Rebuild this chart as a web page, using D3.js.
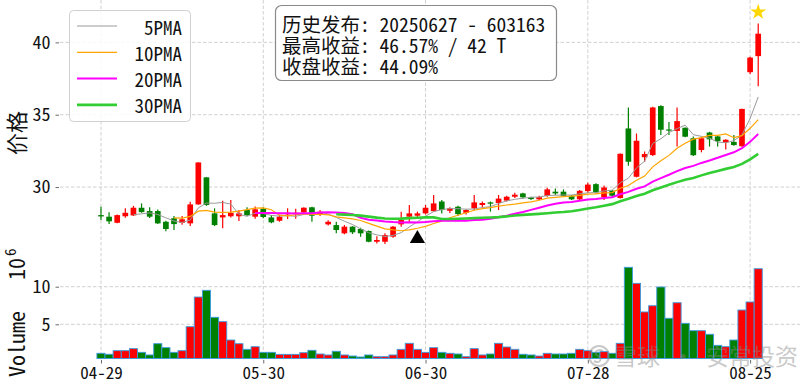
<!DOCTYPE html>
<html>
<head>
<meta charset="utf-8">
<script src="https://cdn.jsdelivr.net/npm/d3@7"></script>
<style>
  body { margin: 0; background: #fff; }
  svg text { font-family: "Noto Sans Mono CJK SC", "Noto Sans CJK SC", "DejaVu Sans Mono", monospace; fill: #111; }
</style>
</head>
<body>
<div id="chart"></div>
<script>
// trading days 2025-04-29 .. 2025-08-26
const dates = ['04-29','04-30','05-06','05-07','05-08','05-09','05-12','05-13','05-14','05-15',
  '05-16','05-19','05-20','05-21','05-22','05-23','05-26','05-27','05-28','05-29',
  '05-30','06-03','06-04','06-05','06-06','06-09','06-10','06-11','06-12','06-13',
  '06-16','06-17','06-18','06-19','06-20','06-23','06-24','06-25','06-26','06-27',
  '06-30','07-01','07-02','07-03','07-04','07-07','07-08','07-09','07-10','07-11',
  '07-14','07-15','07-16','07-17','07-18','07-21','07-22','07-23','07-24','07-25',
  '07-28','07-29','07-30','07-31','08-01','08-04','08-05','08-06','08-07','08-08',
  '08-11','08-12','08-13','08-14','08-15','08-18','08-19','08-20','08-21','08-22',
  '08-25','08-26'];

const opens = [28.06,27.95,27.53,27.98,28.04,28.57,28.34,28.34,27.6,27.84,
  27.53,27.49,28.8,30.67,28.18,27.9,27.98,27.98,28.41,27.95,
  28.5,27.9,27.67,28.11,28.13,28.25,28.6,28.11,27.42,27.37,
  26.8,27.26,27.1,26.96,26.22,26.22,26.57,27.42,27.95,28.02,
  28.18,28.33,29.0,28.36,28.64,28.22,28.53,28.76,28.94,28.9,
  29.06,29.33,29.56,29.29,29.15,29.38,29.68,29.68,29.4,29.15,
  29.72,30.2,29.3,29.75,29.24,34.05,30.71,32.06,32.21,35.6,
  33.98,33.88,34.1,33.37,32.56,33.77,33.5,33.09,33.12,32.82,
  37.94,39.05];
const highs = [28.64,28.25,28.1,28.53,28.7,28.87,28.6,28.45,27.67,28.0,
  28.0,28.98,31.72,30.7,28.53,29.05,29.1,28.41,28.6,28.65,
  28.6,28.06,28.06,28.53,28.5,28.6,28.64,28.41,27.7,27.6,
  27.37,27.3,27.18,27.0,26.6,26.8,27.3,28.3,28.76,28.3,
  28.76,29.45,29.1,28.6,28.7,28.45,29.45,29.0,29.0,29.45,
  29.4,29.6,29.6,29.33,29.4,29.95,29.9,29.84,29.45,29.8,
  30.3,30.26,30.1,29.8,32.32,35.5,33.7,32.45,35.55,35.65,
  34.5,35.5,34.12,33.5,33.45,33.82,33.55,33.3,33.6,35.42,
  39.0,41.3];
const lows = [27.72,27.44,27.5,27.88,28.0,28.22,27.86,27.45,26.94,27.03,
  27.4,27.3,28.78,28.7,27.3,27.15,27.9,27.65,28.0,27.8,
  27.85,27.49,27.6,27.79,27.8,28.2,27.6,27.99,27.35,26.8,
  26.74,26.75,26.57,26.18,26.1,26.06,26.5,27.26,27.6,27.9,
  28.1,28.29,28.18,28.2,28.0,28.1,28.41,28.6,28.3,28.41,
  29.0,29.25,29.2,29.1,29.1,29.33,29.45,29.33,29.1,29.1,
  29.6,29.55,29.1,29.3,29.2,31.47,30.67,31.75,32.15,33.6,
  33.6,32.8,33.45,32.15,32.4,32.8,32.8,32.6,32.85,32.78,
  37.82,36.97];
const closes = [27.97,27.63,28.06,28.22,28.57,28.27,27.95,27.49,27.1,27.44,
  27.77,28.8,31.7,28.76,27.37,28.06,28.22,28.18,28.06,28.46,
  27.93,27.56,27.95,28.22,28.22,28.57,28.02,28.29,27.6,27.03,
  27.26,26.87,26.8,26.22,26.34,26.68,27.26,27.72,28.18,28.18,
  28.57,28.87,28.41,28.53,28.13,28.41,28.94,28.9,28.85,29.2,
  29.33,29.47,29.29,29.17,29.3,29.84,29.56,29.38,29.15,29.74,
  30.17,29.63,29.97,29.4,32.3,31.75,33.2,32.28,35.5,33.96,
  33.9,34.56,33.48,32.2,33.37,33.3,33.17,33.27,32.9,35.4,
  38.95,40.6];
// volume in 10^6
const volumes = [1.14,1.01,1.49,1.49,1.76,1.27,0.92,2.42,1.89,1.27,
  1.49,4.68,8.63,9.52,5.93,5.35,2.91,2.42,1.67,2.02,
  1.27,1.27,1.0,1.0,1.0,1.22,1.54,1.05,0.92,1.41,
  0.92,0.78,0.65,0.92,0.69,0.69,0.92,1.67,2.47,1.67,
  1.27,1.89,1.27,1.14,1.05,0.69,1.76,0.92,1.05,2.47,
  1.98,1.67,1.01,0.92,0.78,1.14,1.05,1.05,1.14,1.67,
  1.49,1.27,1.36,1.14,2.47,12.58,10.45,6.64,7.47,9.96,
  5.8,7.87,5.13,4.15,4.15,3.67,2.2,2.02,2.91,6.9,
  7.97,12.39];

const maWindows = [5, 10, 20, 30];
const maLabels = ['5PMA', '10PMA', '20PMA', '30PMA'];
const maColors = ['#9a9a9a', '#ffa500', '#ff00ff', '#32cd32'];
const maWidths = [1, 1.2, 2, 2.6];

const priceTicks = [30, 35, 40];
const volTicks = [5, 10];
const xTickIdx = [0, 20, 40, 60, 80];

const buyMarks = [{ i: 39, price: 26.5 }];
const starMarks = [{ i: 81, price: 42.1 }];

const infoLines = ['历史发布: 20250627 - 603163', '最高收益: 46.57% / 42 T', '收盘收益: 44.09%'];

const W = 800, H = 385;
const svg = d3.select('#chart').append('svg').attr('width', W).attr('height', H);

const x = d3.scaleLinear().domain([-5.05, 86.15]).range([60, 800]);
const yP = d3.scaleLinear().domain([25.51, 42.93]).range([252, 0]);
const yV = d3.scaleLinear().domain([0.45, 13.82]).range([358.5, 258]);
const step = x(1) - x(0);

const idx = d3.range(dates.length);
const up = i => closes[i] >= opens[i];
const RED = '#ff0000', GREEN = '#008000';

// grid
const grid = svg.append('g').attr('stroke', '#c4c4c4').attr('stroke-width', 0.8).attr('stroke-dasharray', '3.5,2');
grid.selectAll('.vg').data(xTickIdx).join('line')
  .attr('x1', d => x(d)).attr('x2', d => x(d)).attr('y1', 0).attr('y2', 359.5);
grid.selectAll('.hp').data(priceTicks).join('line').attr('class', 'hp')
  .attr('x1', 60).attr('x2', 800).attr('y1', d => yP(d)).attr('y2', d => yP(d));
grid.selectAll('.hv').data(volTicks).join('line').attr('class', 'hv')
  .attr('x1', 60).attr('x2', 800).attr('y1', d => yV(d)).attr('y2', d => yV(d));

// axes
const axP = svg.append('g').attr('transform', 'translate(59,0)')
  .call(d3.axisLeft(yP).tickValues(priceTicks).tickSize(3.5).tickPadding(5));
const axV = svg.append('g').attr('transform', 'translate(59,0)')
  .call(d3.axisLeft(yV).tickValues(volTicks).tickSize(3.5).tickPadding(5));
const axX = svg.append('g').attr('transform', 'translate(0,360)')
  .call(d3.axisBottom(x).tickValues(xTickIdx).tickFormat(i => dates[i]).tickSize(3.5).tickPadding(3));
[axP, axV, axX].forEach(a => {
  a.select('.domain').remove();
  a.selectAll('.tick line').attr('stroke', '#444').attr('stroke-width', 0.8);
  a.selectAll('.tick text').attr('font-size', 18).attr('fill', '#111');
});
axX.selectAll('.tick text').attr('font-size', 17);

// candles
const bodyW = step * 0.7;
const candles = svg.append('g');
candles.selectAll('.wick').data(idx).join('line')
  .attr('x1', i => x(i)).attr('x2', i => x(i))
  .attr('y1', i => yP(highs[i])).attr('y2', i => yP(lows[i]))
  .attr('stroke', i => up(i) ? RED : GREEN).attr('stroke-width', 1.2);
candles.selectAll('.body').data(idx).join('rect')
  .attr('x', i => x(i) - bodyW / 2).attr('width', bodyW)
  .attr('y', i => yP(Math.max(opens[i], closes[i])))
  .attr('height', i => Math.max(1, Math.abs(yP(opens[i]) - yP(closes[i]))))
  .attr('fill', i => up(i) ? RED : GREEN);

// moving averages
function rollingMean(arr, n) {
  return arr.map((d, i) => i < n - 1 ? null : d3.mean(arr.slice(i - n + 1, i + 1)));
}
const maLine = d3.line().defined(d => d[1] != null).x(d => x(d[0])).y(d => yP(d[1]));
maWindows.forEach((n, k) => {
  const m = rollingMean(closes, n);
  svg.append('path').datum(m.map((v, i) => [i, v]))
    .attr('d', maLine).attr('fill', 'none')
    .attr('stroke', maColors[k]).attr('stroke-width', maWidths[k]);
});

// volume
svg.append('g').selectAll('rect').data(idx).join('rect')
  .attr('x', i => x(i) - step / 2).attr('width', step)
  .attr('y', i => yV(volumes[i])).attr('height', i => yV.range()[0] - yV(volumes[i]))
  .attr('fill', i => up(i) ? RED : GREEN)
  .attr('stroke', '#3b9be0').attr('stroke-width', 0.9);

// markers
svg.append('g').selectAll('path').data(buyMarks).join('path')
  .attr('d', d3.symbol(d3.symbolTriangle, 100))
  .attr('transform', d => `translate(${x(d.i)},${yP(d.price) + 1})`)
  .attr('fill', '#000');
svg.append('g').selectAll('path').data(starMarks).join('path')
  .attr('d', d3.symbol(d3.symbolStar, 80))
  .attr('transform', d => `translate(${x(d.i)},${yP(d.price)})`)
  .attr('fill', '#ffd700');

// axis labels
svg.append('text').attr('transform', 'translate(15,133) rotate(-90)')
  .attr('text-anchor', 'middle').attr('dominant-baseline', 'central')
  .attr('font-size', 22).text('价格');
const vl = svg.append('g').attr('transform', 'translate(15,377) rotate(-90)');
vl.append('text').attr('dominant-baseline', 'central').attr('font-size', 22).text('Volume');
vl.append('text').attr('x', 97).attr('dominant-baseline', 'central').attr('font-size', 22).text('10');
vl.append('text').attr('x', 121).attr('y', -6).attr('dominant-baseline', 'central').attr('font-size', 15).text('6');

// legend
const lg = svg.append('g');
lg.append('rect').attr('x', 69.5).attr('y', 10.5).attr('width', 121).attr('height', 111).attr('rx', 4)
  .attr('fill', '#fff').attr('fill-opacity', 0.85).attr('stroke', '#d0d0d0');
maLabels.forEach((lab, k) => {
  const yy = 26 + k * 26.3;
  lg.append('line').attr('x1', 77).attr('x2', 117).attr('y1', yy).attr('y2', yy)
    .attr('stroke', maColors[k]).attr('stroke-width', maWidths[k]);
  lg.append('text').attr('x', 182).attr('y', yy).attr('text-anchor', 'end')
    .attr('dominant-baseline', 'central').attr('font-size', 19).text(lab);
});

// info box
const ib = svg.append('g');
ib.append('rect').attr('x', 275.5).attr('y', 5.5).attr('width', 281).attr('height', 75).attr('rx', 6)
  .attr('fill', '#fff').attr('stroke', '#8a8a8a').attr('stroke-width', 1.2);
infoLines.forEach((t, k) => {
  ib.append('text').attr('x', 282).attr('y', 23 + k * 21.3).attr('dominant-baseline', 'central')
    .attr('font-size', 19.5).text(t);
});

// watermark
const wm = svg.append('g').attr('opacity', 0.45);
wm.append('circle').attr('cx', 599).attr('cy', 356).attr('r', 10).attr('fill', 'none').attr('stroke', '#888').attr('stroke-width', 2);
wm.append('path').attr('d', 'M603,351 C597,348 593,353 598,356 C603,359 600,364 594,361')
  .attr('fill', 'none').attr('stroke', '#888').attr('stroke-width', 2);
wm.append('text').attr('x', 614).attr('y', 355).attr('dominant-baseline', 'central')
  .attr('font-size', 23).style('fill', '#888').text('雪球 · 安常投资');
</script>
</body>
</html>
